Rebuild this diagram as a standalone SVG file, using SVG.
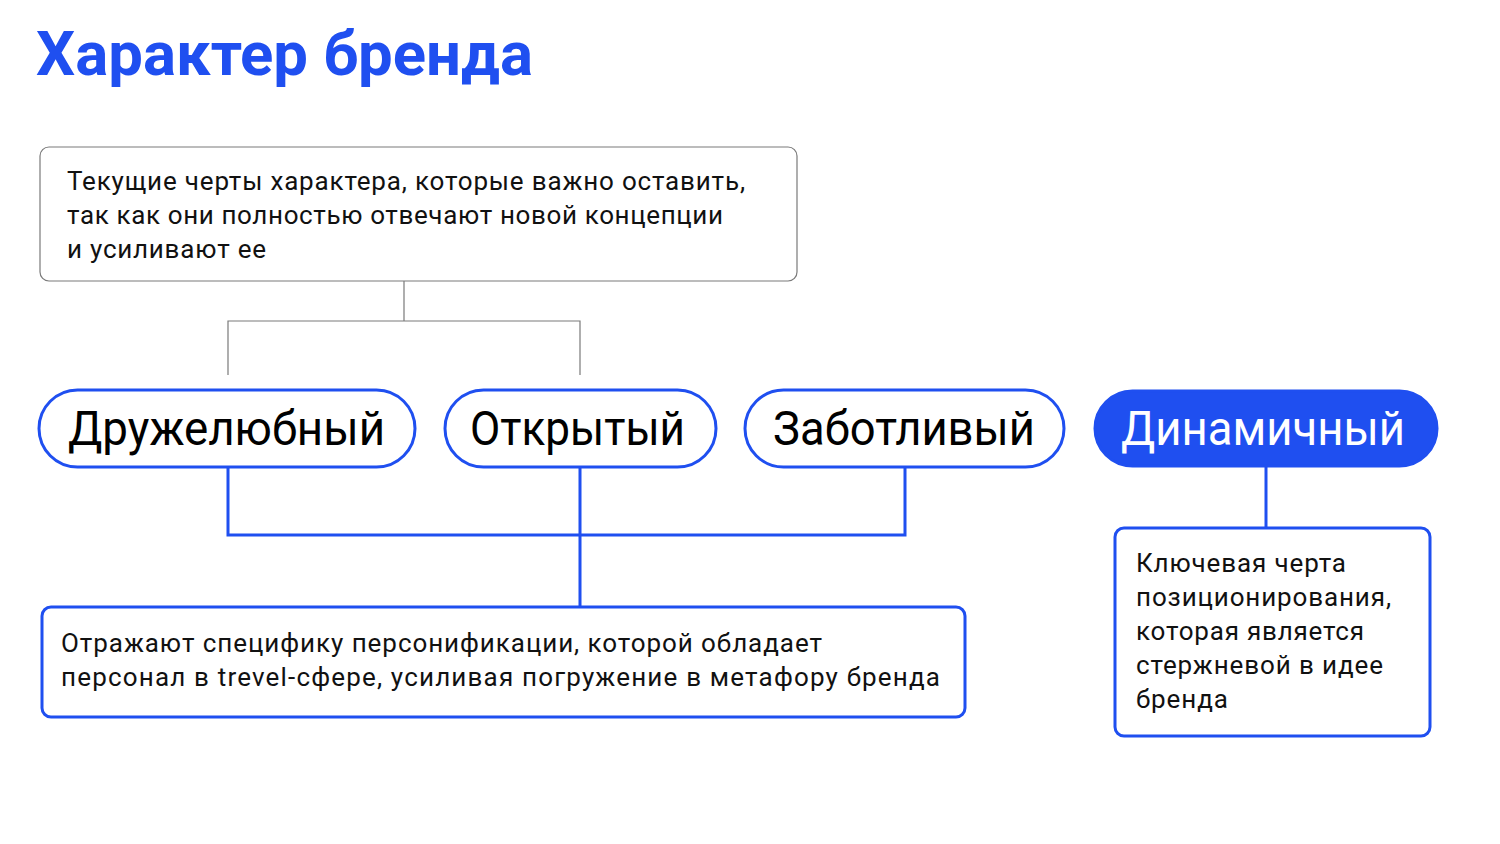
<svg xmlns="http://www.w3.org/2000/svg" width="1500" height="844" viewBox="0 0 1500 844">
<style>
.bg{fill:#ffffff}
.title{font-family:Roboto,"Noto Sans",sans-serif;font-weight:700;font-size:62px;fill:#1f4ff0}
.txt{font-family:Roboto,"Noto Sans",sans-serif;font-size:26px;fill:#111111}
.pilltxt{font-family:Roboto,"Noto Sans",sans-serif;font-size:49px;fill:#000000}
.pill{fill:#ffffff;stroke:#1f4ff0;stroke-width:3}
.pillf{fill:#1f4ff0;stroke:#1f4ff0;stroke-width:3}
.gbox{fill:#ffffff;stroke:#7a7a7a;stroke-width:1.2}
.bbox{fill:#ffffff;stroke:#1f4ff0;stroke-width:3}
.gline{fill:none;stroke:#7a7a7a;stroke-width:1.2}
.bline{fill:none;stroke:#1f4ff0;stroke-width:3}
</style>
<rect class="bg" x="0" y="0" width="1500" height="844"/>
<text class="title" x="36" y="75" textLength="497" lengthAdjust="spacingAndGlyphs">Характер бренда</text>
<g id="connectors">
<path class="gline" d="M404,281 V321 M228,375 V321 H580 V375"/>
<path class="bline" d="M228,467 V535 H905 V467 M580,467 V607"/>
<path class="bline" d="M1266,466 V528"/>
</g>
<g id="node-current">
<rect class="gbox" x="40" y="147" width="757" height="134" rx="9"/>
<text class="txt" x="67" y="190" textLength="678" lengthAdjust="spacing">Текущие черты характера, которые важно оставить,</text>
<text class="txt" x="67" y="224" textLength="656" lengthAdjust="spacing">так как они полностью отвечают новой концепции</text>
<text class="txt" x="67" y="258" textLength="199" lengthAdjust="spacing">и усиливают ее</text>
</g>
<g id="node-friendly">
<rect class="pill" x="39" y="390" width="376" height="77" rx="38.5"/>
<text class="pilltxt" x="68" y="445" textLength="317" lengthAdjust="spacingAndGlyphs">Дружелюбный</text>
</g>
<g id="node-open">
<rect class="pill" x="445" y="390" width="271" height="77" rx="38.5"/>
<text class="pilltxt" x="470" y="445" textLength="215" lengthAdjust="spacingAndGlyphs">Открытый</text>
</g>
<g id="node-caring">
<rect class="pill" x="745" y="390" width="319" height="77" rx="38.5"/>
<text class="pilltxt" x="773" y="445" textLength="262" lengthAdjust="spacingAndGlyphs">Заботливый</text>
</g>
<g id="node-dynamic">
<rect class="pillf" x="1095" y="391" width="342" height="75" rx="37.5"/>
<text class="pilltxt" x="1121" y="445" textLength="284" lengthAdjust="spacingAndGlyphs" style="fill:#ffffff">Динамичный</text>
</g>
<g id="node-reflect">
<rect class="bbox" x="42" y="607" width="923" height="110" rx="9"/>
<text class="txt" x="61" y="652" textLength="761" lengthAdjust="spacing">Отражают специфику персонификации, которой обладает</text>
<text class="txt" x="61" y="686" textLength="879" lengthAdjust="spacing">персонал в trevel-сфере, усиливая погружение в метафору бренда</text>
</g>
<g id="node-key">
<rect class="bbox" x="1115" y="528" width="315" height="208" rx="9"/>
<text class="txt" x="1136" y="572" textLength="210" lengthAdjust="spacing">Ключевая черта</text>
<text class="txt" x="1136" y="606" textLength="255" lengthAdjust="spacing">позиционирования,</text>
<text class="txt" x="1136" y="640" textLength="228" lengthAdjust="spacing">которая является</text>
<text class="txt" x="1136" y="674" textLength="247" lengthAdjust="spacing">стержневой в идее</text>
<text class="txt" x="1136" y="708" textLength="92" lengthAdjust="spacing">бренда</text>
</g>
</svg>
